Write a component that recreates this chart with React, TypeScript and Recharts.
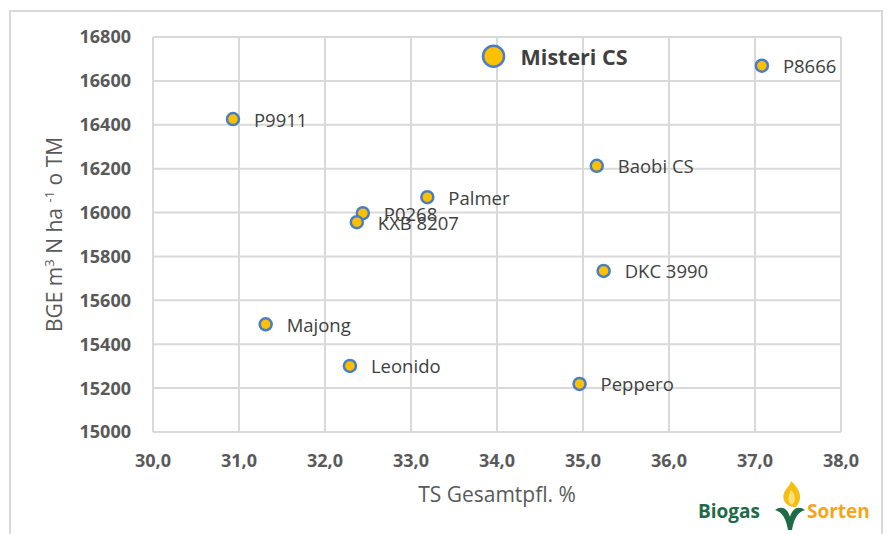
import React from 'react';
import { ScatterChart, Scatter, XAxis, YAxis, CartesianGrid } from 'recharts';

const varieties = ['P9911', 'Misteri CS', 'P8666', 'Baobi CS', 'Palmer', 'P0268', 'KXB 8207', 'DKC 3990', 'Majong', 'Leonido', 'Peppero'];
const tsValues = [30.93, 33.96, 37.08, 35.16, 33.19, 32.44, 32.37, 35.24, 31.31, 32.29, 34.96];
const bgeValues = [16426, 16712, 16669, 16213, 16070, 15997, 15956, 15734, 15491, 15301, 15219];
const highlighted = 'Misteri CS';
const xTicks = [30, 31, 32, 33, 34, 35, 36, 37, 38];
const yTicks = [15000, 15200, 15400, 15600, 15800, 16000, 16200, 16400, 16600, 16800];

const data = varieties.map((name, i) => ({ name, ts: tsValues[i], bge: bgeValues[i] }));

const FONT = '"Open Sans", "DejaVu Sans", sans-serif';
const GRID = '#d9d9d9';

const Dot = (props: any) => {
  const { cx, cy, payload } = props;
  const hi = payload.name === highlighted;
  return (
    <g>
      <circle cx={cx} cy={cy} r={hi ? 10.5 : 6} fill="#FFC000" stroke="#4a7ec4" strokeWidth={2.5} />
      <text
        x={cx + (hi ? 27 : 21)}
        y={cy}
        dominantBaseline="central"
        fontFamily={FONT}
        fontSize={hi ? 21.5 : 18.5}
        fontWeight={hi ? 700 : 400}
        fill="#404040"
      >
        {payload.name}
      </text>
    </g>
  );
};

const YTitle = (props: any) => {
  const vb = props.viewBox || { x: 83, y: 37, width: 70, height: 395 };
  const cx = 62;
  const cy = vb.y + vb.height / 2;
  return (
    <text x={cx} y={cy} transform={`rotate(-90, ${cx}, ${cy})`} textAnchor="middle" fontFamily={FONT} fontSize={21} fill="#595959">
      <tspan>BGE m</tspan>
      <tspan dy={-8} fontSize={13}>3</tspan>
      <tspan dy={8}> N ha </tspan>
      <tspan dy={-8} fontSize={13}>-1</tspan>
      <tspan dy={8}> o TM</tspan>
    </text>
  );
};

const XTitle = (props: any) => {
  const vb = props.viewBox || { x: 153, y: 432, width: 688, height: 60 };
  return (
    <text x={vb.x + vb.width / 2} y={502} textAnchor="middle" fontFamily={FONT} fontSize={21} fill="#595959">
      TS Gesamtpfl. %
    </text>
  );
};

export default function App() {
  return (
    <div style={{ position: 'absolute', left: 0, top: 0, width: 888, height: 534, background: '#fff', overflow: 'hidden' }}>
      <div style={{ position: 'absolute', left: 9, top: 10, width: 874, height: 560, border: `2px solid ${GRID}`, boxSizing: 'border-box' }} />
      <div style={{ position: 'absolute', left: 0, top: 0 }}>
        <ScatterChart width={888} height={534} margin={{ top: 37, right: 47, bottom: 42, left: 83 }}>
          <CartesianGrid stroke={GRID} strokeWidth={2} />
          <XAxis
            type="number"
            dataKey="ts"
            domain={[30, 38]}
            ticks={xTicks}
            interval={0}
            height={60}
            tickLine={false}
            tickSize={0}
            tickMargin={22}
            axisLine={{ stroke: GRID, strokeWidth: 2 }}
            tickFormatter={(v: number) => v.toFixed(1).replace('.', ',')}
            tick={{ fill: '#595959', fontSize: 18, fontWeight: 700, fontFamily: FONT }}
            label={(p: any) => <XTitle {...p} />}
          />
          <YAxis
            type="number"
            dataKey="bge"
            domain={[15000, 16800]}
            ticks={yTicks}
            interval={0}
            width={70}
            tickLine={false}
            tickSize={0}
            tickMargin={22}
            axisLine={{ stroke: GRID, strokeWidth: 2 }}
            tick={{ fill: '#595959', fontSize: 18, fontWeight: 700, fontFamily: FONT }}
            label={(p: any) => <YTitle {...p} />}
          />
          <Scatter data={data} shape={Dot} isAnimationActive={false} />
        </ScatterChart>
      </div>
      <svg width={888} height={534} style={{ position: 'absolute', left: 0, top: 0, pointerEvents: 'none' }}>
        <text x={698} y={518} fontFamily={FONT} fontSize={19} fontWeight={700} fill="#1e6b47">Biogas</text>
        <path d="M791,481 C801,490 803,499 796,507 C788,508 781,501 784,493 C786,488 790,486 791,481 Z" fill="#f6bd12" />
        <path d="M791,490 C796,495 796,501 792,505 C788,503 787,498 791,490 Z" fill="#fde27a" />
        <path d="M775,510 C782,505 788,509 790,517 C792,509 798,505 805,510 C798,512 794,518 792,530 L788,530 C786,518 782,512 775,510 Z" fill="#1e6b47" />
        <text x={807} y={518} fontFamily={FONT} fontSize={19} fontWeight={700} fill="#f4a51c">Sorten</text>
      </svg>
    </div>
  );
}
